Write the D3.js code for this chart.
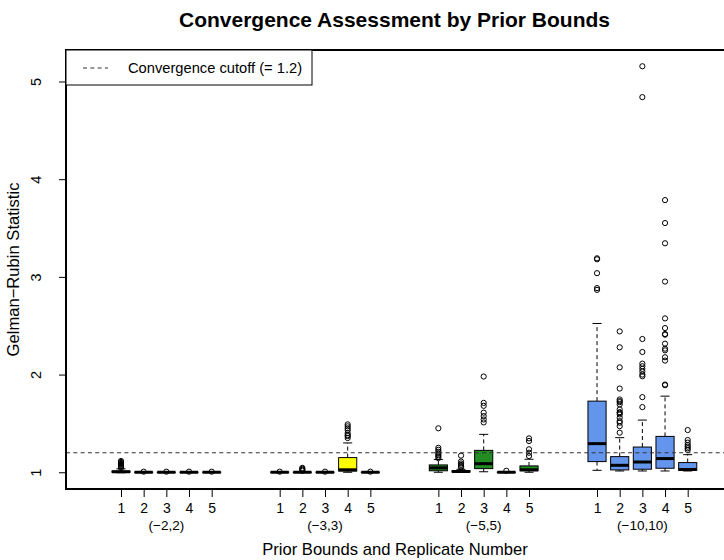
<!DOCTYPE html>
<html>
<head>
<meta charset="utf-8">
<script src="https://cdn.jsdelivr.net/npm/d3@7"></script>
<style>
  body { margin: 0; background: #fff; }
  text { font-family: "Liberation Sans", Arial, Helvetica, sans-serif; fill: #000; }
</style>
</head>
<body>
<svg id="chart" width="724" height="560"></svg>
<script>
// ---- data -------------------------------------------------------------
const groups = ["(\u22122,2)", "(\u22123,3)", "(\u22125,5)", "(\u221210,10)"];
const replicates = ["1", "2", "3", "4", "5"];
const groupFills = ["tomato", "yellow", "forestgreen", "cornflowerblue"];
const cutoff = 1.2;
const yTicks = [1, 2, 3, 4, 5];

// Box summaries, one entry per replicate, groups in order
const whiskerLow = [
  0.995, 0.997, 0.997, 0.997, 0.997,
  0.997, 0.997, 0.997, 1.000, 0.997,
  1.000, 0.998, 1.005, 0.997, 1.000,
  1.020, 1.013, 1.013, 1.013, 1.013
];
const q1 = [
  1.000, 0.999, 0.999, 0.999, 0.999,
  0.999, 0.999, 0.999, 1.012, 0.999,
  1.015, 1.003, 1.037, 0.999, 1.015,
  1.109, 1.024, 1.031, 1.041, 1.020
];
const median = [
  1.005, 1.000, 1.000, 1.000, 1.000,
  1.000, 1.000, 1.000, 1.025, 1.000,
  1.045, 1.008, 1.088, 1.000, 1.025,
  1.293, 1.071, 1.105, 1.140, 1.028
];
const q3 = [
  1.012, 1.001, 1.001, 1.001, 1.001,
  1.001, 1.001, 1.001, 1.150, 1.001,
  1.075, 1.015, 1.224, 1.001, 1.065,
  1.728, 1.160, 1.258, 1.367, 1.099
];
const whiskerHigh = [
  1.035, 1.003, 1.003, 1.003, 1.003,
  1.003, 1.005, 1.003, 1.300, 1.003,
  1.130, 1.030, 1.388, 1.003, 1.133,
  2.523, 1.354, 1.534, 1.779, 1.180
];
const outliers = [
  [1.045, 1.055, 1.065, 1.075, 1.085, 1.095, 1.105, 1.115],
  [1.006], [1.006], [1.006], [1.006],
  [1.006],
  [1.015, 1.025, 1.035, 1.045],
  [1.006],
  [1.35, 1.37, 1.38, 1.40, 1.43, 1.45, 1.47, 1.49],
  [1.006],
  [1.145, 1.16, 1.175, 1.19, 1.21, 1.23, 1.25, 1.45],
  [1.05, 1.06, 1.075, 1.09, 1.11, 1.17],
  [1.51, 1.54, 1.575, 1.61, 1.68, 1.71, 1.98],
  [1.015],
  [1.166, 1.20, 1.235, 1.32, 1.347],
  [2.867, 2.885, 3.038, 3.18, 3.19],
  [1.405, 1.472, 1.507, 1.523, 1.558, 1.592, 1.609, 1.615, 1.643, 1.694,
   1.717, 1.728, 1.745, 1.857, 2.074, 2.279, 2.442],
  [1.667, 1.769, 1.983, 2.0, 2.031, 2.058, 2.085, 2.112, 2.231, 2.364, 4.84, 5.156],
  [1.891, 1.898, 2.143, 2.177, 2.248, 2.265, 2.316, 2.408, 2.415, 2.476,
   2.575, 2.952, 3.344, 3.551, 3.786],
  [1.228, 1.245, 1.262, 1.279, 1.303, 1.33, 1.432]
];

// ---- layout -----------------------------------------------------------
const svg = d3.select("#chart");
const W = 724, H = 560;
const plot = { left: 66, top: 50, bottom: 489, right: 740 };

svg.append("rect").attr("width", W).attr("height", H).attr("fill", "#fff");

// one slot per replicate, two empty slots between groups
const boxes = whiskerLow.map((_, i) => {
  const g = Math.floor(i / 5), r = i % 5;
  return {
    g, r, pos: g * 7 + r + 1,
    lo: whiskerLow[i], q1: q1[i], med: median[i], q3: q3[i], hi: whiskerHigh[i],
    out: outliers[i], fill: groupFills[g]
  };
});

const x = d3.scaleLinear().domain([1, 26]).range([121, 687.7]);

const allVals = boxes.flatMap(b => [b.lo, b.hi, ...b.out]);
const vMin = d3.min(allVals), vMax = d3.max(allVals);
const pad = 0.04 * (vMax - vMin);
const y = d3.scaleLinear().domain([vMin - pad, vMax + pad]).range([plot.bottom, plot.top]);

const unit = x(2) - x(1);
const boxW = 0.8 * unit;
const capW = 0.5 * boxW;

// ---- boxes ------------------------------------------------------------
const gBox = svg.append("g");
boxes.forEach(b => {
  const cx = x(b.pos);
  const g = gBox.append("g");
  // whiskers
  g.append("line").attr("x1", cx).attr("x2", cx).attr("y1", y(b.q1)).attr("y2", y(b.lo))
    .attr("stroke", "#000").attr("stroke-width", 1).attr("stroke-dasharray", "4,3");
  g.append("line").attr("x1", cx).attr("x2", cx).attr("y1", y(b.q3)).attr("y2", y(b.hi))
    .attr("stroke", "#000").attr("stroke-width", 1).attr("stroke-dasharray", "4,3");
  // staples
  [b.lo, b.hi].forEach(v => {
    g.append("line").attr("x1", cx - capW / 2).attr("x2", cx + capW / 2)
      .attr("y1", y(v)).attr("y2", y(v)).attr("stroke", "#000").attr("stroke-width", 1);
  });
  // box
  g.append("rect").attr("x", cx - boxW / 2).attr("width", boxW)
    .attr("y", y(b.q3)).attr("height", Math.max(0, y(b.q1) - y(b.q3)))
    .attr("fill", b.fill).attr("stroke", "#000").attr("stroke-width", 1);
  // median
  g.append("line").attr("x1", cx - boxW / 2).attr("x2", cx + boxW / 2)
    .attr("y1", y(b.med)).attr("y2", y(b.med)).attr("stroke", "#000").attr("stroke-width", 3);
  // outliers
  g.selectAll("circle").data(b.out).join("circle")
    .attr("cx", cx).attr("cy", d => y(d)).attr("r", 2.6)
    .attr("fill", "none").attr("stroke", "#000").attr("stroke-width", 1);
});

// cutoff reference line
svg.append("line").attr("x1", plot.left).attr("x2", W)
  .attr("y1", y(cutoff)).attr("y2", y(cutoff))
  .attr("stroke", "#333").attr("stroke-width", 1.1).attr("stroke-dasharray", "4,3.3");

// ---- frame (left, top, bottom) -----------------------------------------
svg.append("path")
  .attr("d", `M${plot.right},${plot.top}H${plot.left}V${plot.bottom}H${plot.right}`)
  .attr("fill", "none").attr("stroke", "#000").attr("stroke-width", 2);

// ---- axes ---------------------------------------------------------------
const yAxis = svg.append("g").attr("transform", `translate(${plot.left},0)`)
  .call(d3.axisLeft(y).tickValues(yTicks).tickSize(7).tickPadding(0).tickFormat(d3.format("d")));
yAxis.select(".domain").remove();
yAxis.selectAll(".tick line").attr("stroke", "#000");
yAxis.selectAll(".tick text")
  .attr("font-size", 14.5).attr("text-anchor", "middle")
  .attr("transform", "rotate(-90)")
  .attr("x", 0).attr("dy", 0)
  .attr("y", -25);

const xTickPos = boxes.map(b => b.pos);
const xAxis = svg.append("g").attr("transform", `translate(0,${plot.bottom + 1})`)
  .call(d3.axisBottom(x).tickValues(xTickPos).tickSize(7).tickPadding(0)
    .tickFormat((d, i) => replicates[i % 5]));
xAxis.select(".domain").remove();
xAxis.selectAll(".tick line").attr("stroke", "#000");
xAxis.selectAll(".tick text").attr("font-size", 14).attr("y", 23).attr("dy", 0);

// group labels under each block of replicates
svg.append("g").selectAll("text").data(groups).join("text")
  .attr("x", (d, i) => x(i * 7 + 3)).attr("y", 529.5)
  .attr("text-anchor", "middle").attr("font-size", 13.5).text(d => d);

// ---- titles -------------------------------------------------------------
svg.append("text").attr("x", 394.5).attr("y", 27).attr("text-anchor", "middle")
  .attr("font-size", 21).attr("font-weight", "bold")
  .text("Convergence Assessment by Prior Bounds");

svg.append("text").attr("x", 395).attr("y", 555).attr("text-anchor", "middle")
  .attr("font-size", 16.6).text("Prior Bounds and Replicate Number");

svg.append("text").attr("transform", `translate(19,${(plot.top + plot.bottom) / 2}) rotate(-90)`)
  .attr("text-anchor", "middle").attr("font-size", 16.6).text("Gelman\u2212Rubin Statistic");

// ---- legend ---------------------------------------------------------------
const leg = svg.append("g");
leg.append("rect").attr("x", plot.left).attr("y", plot.top).attr("width", 246).attr("height", 35)
  .attr("fill", "#fff").attr("stroke", "#000").attr("stroke-width", 1);
leg.append("line").attr("x1", 83).attr("x2", 108).attr("y1", 68).attr("y2", 68)
  .attr("stroke", "#333").attr("stroke-width", 1.1).attr("stroke-dasharray", "4,3.3");
leg.append("text").attr("x", 128).attr("y", 73).attr("font-size", 14.7)
  .text("Convergence cutoff (= 1.2)");
</script>
</body>
</html>
